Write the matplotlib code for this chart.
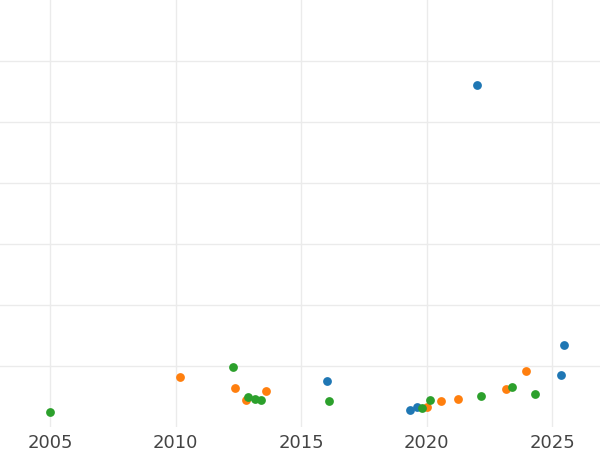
import matplotlib
matplotlib.use("Agg")
import matplotlib.pyplot as plt

blue_x = [2022.0, 2016.04, 2019.34, 2019.62, 2025.36, 2025.48]
blue_y = [5.61, 0.75, 0.28, 0.33, 0.85, 1.34]
orange_x = [2010.18, 2012.37, 2012.81, 2013.6, 2020.02, 2020.58, 2021.25, 2023.17, 2023.96]
orange_y = [0.82, 0.64, 0.44, 0.59, 0.33, 0.43, 0.46, 0.62, 0.92]
green_x = [2005.0, 2012.29, 2012.89, 2013.17, 2013.41, 2016.12, 2019.82, 2020.14, 2022.17, 2023.41, 2024.32]
green_y = [0.25, 0.98, 0.49, 0.46, 0.44, 0.43, 0.31, 0.44, 0.51, 0.66, 0.54]

fig = plt.figure(figsize=(6, 4.5), dpi=100)
ax = fig.add_axes([0, 0.051, 1, 0.949])
for xs, ys, c in [(blue_x, blue_y, "#1f77b4"), (orange_x, orange_y, "#ff7f0e"),
                  (green_x, green_y, "#2ca02c")]:
    ax.scatter(xs, ys, s=40, color=c, zorder=3, linewidths=0)

ax.set_xlim(2003.0, 2026.9)
ax.set_ylim(0, 7)
ax.set_xticks([2005, 2010, 2015, 2020, 2025])
ax.set_yticks([1, 2, 3, 4, 5, 6])
ax.tick_params(axis="y", left=False, labelleft=False)
ax.tick_params(axis="x", length=0, labelsize=13, colors="#444444", pad=5)
ax.grid(True, color="#ebebeb", linewidth=1.0)
ax.set_axisbelow(True)
for s in ax.spines.values():
    s.set_visible(False)

fig.savefig("out.png")
